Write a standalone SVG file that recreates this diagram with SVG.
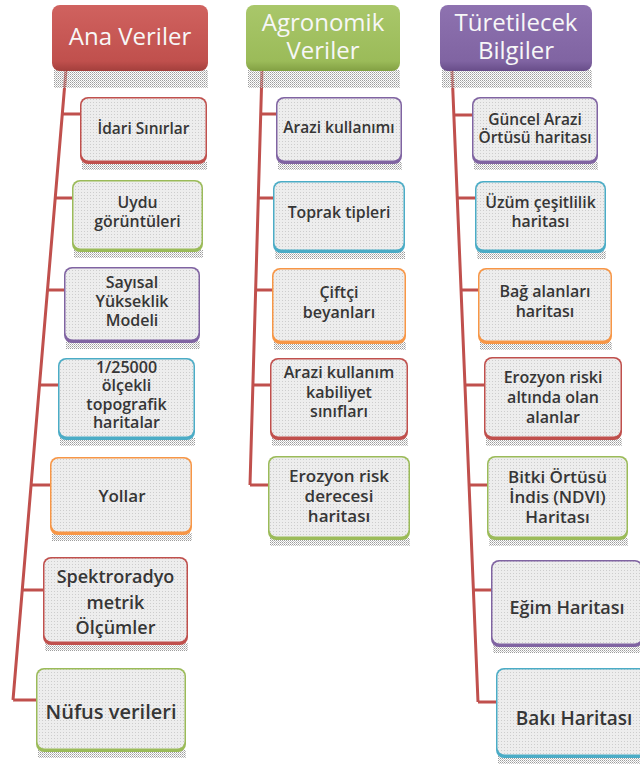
<svg xmlns="http://www.w3.org/2000/svg" width="640" height="769" viewBox="0 0 640 769">
<defs>
<pattern id="dots" width="3" height="3" patternUnits="userSpaceOnUse"><rect width="3" height="3" fill="#ededed"/><rect width="1" height="1" fill="#cdcdcd"/></pattern>
<pattern id="shd" width="2" height="2" patternUnits="userSpaceOnUse"><rect width="1" height="1" fill="#9c9c9c"/><rect x="1" y="1" width="1" height="1" fill="#c4c4c4"/></pattern>
<linearGradient id="gRed" x1="0" y1="0" x2="0" y2="1"><stop offset="0" stop-color="#d0625f"/><stop offset="0.85" stop-color="#c0504d"/><stop offset="1" stop-color="#a33f3c"/></linearGradient>
<linearGradient id="gGreen" x1="0" y1="0" x2="0" y2="1"><stop offset="0" stop-color="#a9c76a"/><stop offset="0.85" stop-color="#9bbb59"/><stop offset="1" stop-color="#82a043"/></linearGradient>
<linearGradient id="gPurple" x1="0" y1="0" x2="0" y2="1"><stop offset="0" stop-color="#8e72b0"/><stop offset="0.85" stop-color="#8064a2"/><stop offset="1" stop-color="#684d89"/></linearGradient>
</defs>
<style>
.hdr{font-family:"Open Sans","Liberation Sans",sans-serif;font-size:24px;fill:#f7f7f7;text-anchor:middle}
.t{font-family:"Open Sans","Liberation Sans",sans-serif;font-weight:600;fill:#363636;text-anchor:middle}
.s1{font-size:15.5px}.s2{font-size:15.8px}.s3{font-size:16px}.s4{font-size:16px}.s5{font-size:17px}.s6{font-size:18px}.s7{font-size:19px}
.in{fill:url(#dots)}
.sh{fill:url(#shd)}
.red{fill:#c0504d}.green{fill:#9bbb59}.purple{fill:#8064a2}.cyan{fill:#4bacc6}.orange{fill:#f79646}
.con{stroke:#c0504d;stroke-width:3;fill:none;stroke-linejoin:miter}
</style>
<rect width="640" height="769" fill="#ffffff"/>

<g id="connectors">
<path class="con" d="M66,70 L13,700 M62.3,114 H80 M55.2,198 H72 M47.4,290 H64 M39.4,385 H58 M31,485 H50 M22.2,590 H43 M13,700 H36"/>
<path class="con" d="M262,70 L250,485 M260.7,114 H276 M258.3,198 H273 M255.6,290 H272 M252.9,385 H270 M250,485 H268"/>
<path class="con" d="M452,70 L478,702 M453.9,115 H472 M457.3,198 H475 M461,290 H478 M465,385 H484 M469,485 H487 M473.4,590 H491 M478,702 H496"/>
</g>

<g id="h1"><rect class="sh" x="54" y="70" width="154" height="18"/><rect x="52" y="5" width="156" height="66" rx="8" fill="url(#gRed)"/><text class="hdr" x="130" y="45">Ana Veriler</text></g>
<g id="h2"><rect class="sh" x="248" y="70" width="152" height="18"/><rect x="246" y="5" width="154" height="66" rx="8" fill="url(#gGreen)"/><text class="hdr" x="323" y="31">Agronomik</text><text class="hdr" x="323" y="59">Veriler</text></g>
<g id="h3"><rect class="sh" x="442" y="70" width="150" height="18"/><rect x="440" y="5" width="152" height="66" rx="8" fill="url(#gPurple)"/><text class="hdr" x="516" y="31">Türetilecek</text><text class="hdr" x="516" y="59">Bilgiler</text></g>

<!-- Column 1 -->
<g id="n1a"><rect class="sh" x="82" y="162" width="125" height="8"/><rect class="red" x="80" y="97" width="127" height="67" rx="8"/><rect class="in" x="81.5" y="98.5" width="124" height="62" rx="7"/><text class="t s1" x="143.5" y="134">İdari Sınırlar</text></g>
<g id="n1b"><rect class="sh" x="74" y="250" width="129" height="8"/><rect class="green" x="72" y="180" width="131" height="72" rx="8"/><rect class="in" x="73.5" y="181.5" width="128" height="67" rx="7"/><text class="t s2" x="137.5" y="208">Uydu</text><text class="t s2" x="137.5" y="227">görüntüleri</text></g>
<g id="n1c"><rect class="sh" x="66" y="341" width="134" height="8"/><rect class="purple" x="64" y="267" width="136" height="76" rx="8"/><rect class="in" x="65.5" y="268.5" width="133" height="71" rx="7"/><text class="t s3" x="132" y="288">Sayısal</text><text class="t s3" x="132" y="307">Yükseklik</text><text class="t s3" x="132" y="326">Modeli</text></g>
<g id="n1d"><rect class="sh" x="60" y="438" width="135" height="8"/><rect class="cyan" x="58" y="358" width="137" height="82" rx="8"/><rect class="in" x="59.5" y="359.5" width="134" height="77" rx="7"/><text class="t s4" x="126.5" y="373">1/25000</text><text class="t s4" x="126.5" y="391">ölçekli</text><text class="t s4" x="126.5" y="409.5">topografik</text><text class="t s4" x="126.5" y="428">haritalar</text></g>
<g id="n1e"><rect class="sh" x="52" y="533" width="140" height="8"/><rect class="orange" x="50" y="457" width="142" height="78" rx="8"/><rect class="in" x="51.5" y="458.5" width="139" height="73" rx="7"/><text class="t s5" x="122" y="502">Yollar</text></g>
<g id="n1f"><rect class="sh" x="45" y="643" width="143" height="8"/><rect class="red" x="43" y="557" width="145" height="88" rx="8"/><rect class="in" x="44.5" y="558.5" width="142" height="83" rx="7"/><text class="t s6" x="115.5" y="583">Spektroradyo</text><text class="t s6" x="115.5" y="609">metrik</text><text class="t s6" x="115.5" y="634">Ölçümler</text></g>
<g id="n1g"><rect class="sh" x="38" y="750" width="148" height="8"/><rect class="green" x="36" y="668" width="150" height="84" rx="8"/><rect class="in" x="37.5" y="669.5" width="147" height="79" rx="7"/><text class="t" style="font-size:20px" x="111" y="719">Nüfus verileri</text></g>

<!-- Column 2 -->
<g id="n2a"><rect class="sh" x="278" y="162" width="124" height="8"/><rect class="purple" x="276" y="97" width="126" height="67" rx="8"/><rect class="in" x="277.5" y="98.5" width="123" height="62" rx="7"/><text class="t s1" x="339" y="133">Arazi kullanımı</text></g>
<g id="n2b"><rect class="sh" x="275" y="251" width="130" height="8"/><rect class="cyan" x="273" y="181" width="132" height="72" rx="8"/><rect class="in" x="274.5" y="182.5" width="129" height="67" rx="7"/><text class="t s2" x="339" y="218">Toprak tipleri</text></g>
<g id="n2c"><rect class="sh" x="274" y="342" width="132" height="8"/><rect class="orange" x="272" y="268" width="134" height="76" rx="8"/><rect class="in" x="273.5" y="269.5" width="131" height="71" rx="7"/><text class="t s3" x="339" y="298">Çiftçi</text><text class="t s3" x="339" y="318">beyanları</text></g>
<g id="n2d"><rect class="sh" x="272" y="438" width="136" height="8"/><rect class="red" x="270" y="358" width="138" height="82" rx="8"/><rect class="in" x="271.5" y="359.5" width="135" height="77" rx="7"/><text class="t s4" x="339" y="378">Arazi kullanım</text><text class="t s4" x="339" y="398">kabiliyet</text><text class="t s4" x="339" y="417">sınıfları</text></g>
<g id="n2e"><rect class="sh" x="270" y="538" width="140" height="8"/><rect class="green" x="268" y="456" width="142" height="84" rx="8"/><rect class="in" x="269.5" y="457.5" width="139" height="79" rx="7"/><text class="t s5" x="339" y="482">Erozyon risk</text><text class="t s5" x="339" y="502">derecesi</text><text class="t s5" x="339" y="522">haritası</text></g>

<!-- Column 3 -->
<g id="n3a"><rect class="sh" x="474" y="162" width="124" height="8"/><rect class="purple" x="472" y="97" width="126" height="67" rx="8"/><rect class="in" x="473.5" y="98.5" width="123" height="62" rx="7"/><text class="t s1" x="535" y="125">Güncel Arazi</text><text class="t s1" x="535" y="143">Örtüsü haritası</text></g>
<g id="n3b"><rect class="sh" x="477" y="251" width="129" height="8"/><rect class="cyan" x="475" y="181" width="131" height="72" rx="8"/><rect class="in" x="476.5" y="182.5" width="128" height="67" rx="7"/><text class="t s2" x="540.5" y="208">Üzüm çeşitlilik</text><text class="t s2" x="540.5" y="227">haritası</text></g>
<g id="n3c"><rect class="sh" x="480" y="342" width="132" height="8"/><rect class="orange" x="478" y="268" width="134" height="76" rx="8"/><rect class="in" x="479.5" y="269.5" width="131" height="71" rx="7"/><text class="t s3" x="545" y="297">Bağ alanları</text><text class="t s3" x="545" y="317">haritası</text></g>
<g id="n3d"><rect class="sh" x="486" y="438" width="136" height="8"/><rect class="red" x="484" y="357" width="138" height="83" rx="8"/><rect class="in" x="485.5" y="358.5" width="135" height="78" rx="7"/><text class="t s4" x="553" y="383">Erozyon riski</text><text class="t s4" x="553" y="403">altında olan</text><text class="t s4" x="553" y="423">alanlar</text></g>
<g id="n3e"><rect class="sh" x="489" y="538" width="139" height="8"/><rect class="green" x="487" y="456" width="141" height="84" rx="8"/><rect class="in" x="488.5" y="457.5" width="138" height="79" rx="7"/><text class="t s5" x="557.5" y="483">Bitki Örtüsü</text><text class="t s5" x="557.5" y="503">İndis (NDVI)</text><text class="t s5" x="557.5" y="523">Haritası</text></g>
<g id="n3f"><rect class="sh" x="493" y="645" width="150" height="8"/><rect class="purple" x="491" y="560" width="152" height="87" rx="8"/><rect class="in" x="492.5" y="561.5" width="149" height="82" rx="7"/><text class="t s6" x="567" y="614">Eğim Haritası</text></g>
<g id="n3g"><rect class="sh" x="498" y="756" width="154" height="8"/><rect class="cyan" x="496" y="668" width="156" height="90" rx="8"/><rect class="in" x="497.5" y="669.5" width="153" height="85" rx="7"/><text class="t s7" x="574" y="725">Bakı Haritası</text></g>
</svg>
